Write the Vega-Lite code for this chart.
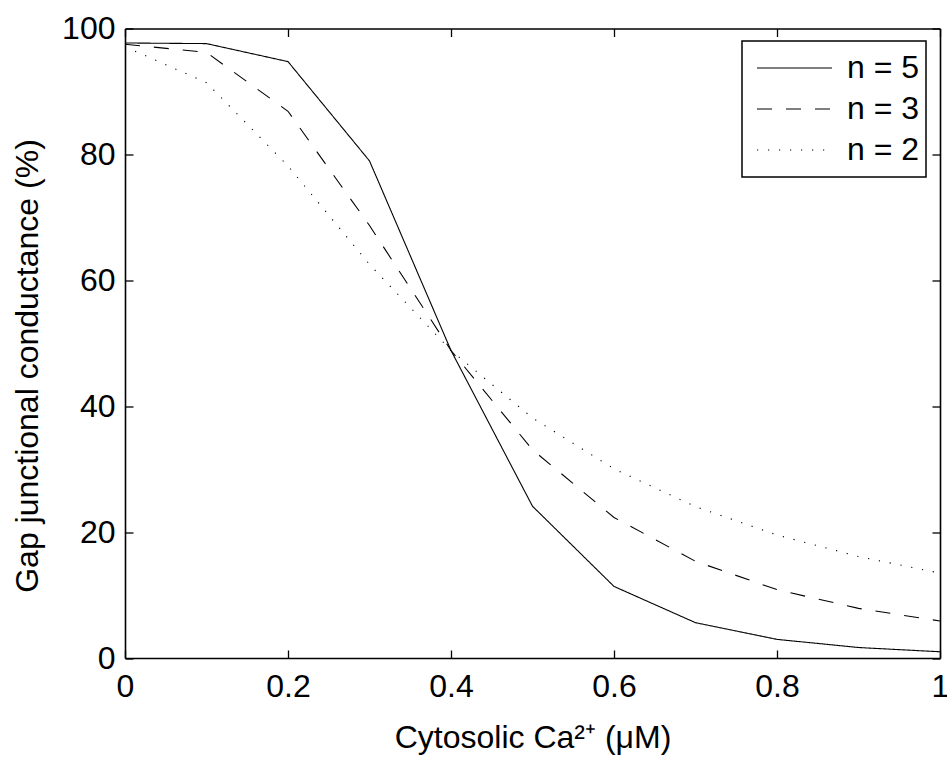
{
  "$schema": "https://vega.github.io/schema/vega-lite/v6.json",
  "width": 815,
  "height": 629.5,
  "autosize": {"type": "none"},
  "padding": {"left": 125, "top": 28.5, "right": 7, "bottom": 104},
  "background": "white",
  "config": {
    "font": "Liberation Sans",
    "view": {"stroke": null},
    "axis": {
      "domainColor": "black", "domainWidth": 1.6,
      "tickColor": "black", "tickWidth": 1.3, "tickSize": -8,
      "labelFont": "Liberation Sans", "labelFontSize": 32, "labelColor": "black",
      "titleFont": "Liberation Sans", "titleFontSize": 32, "titleFontWeight": "normal", "titleColor": "black",
      "grid": false, "labelOverlap": false, "labelFlush": false
    },
    "legend": {"strokeColor": "black", "strokeWidth": 1.5, "fillColor": "white"}
  },
  "data": {
    "values": [
      {"c": 0, "g": 97.7, "s": "n = 5"},
      {"c": 0.1, "g": 97.6, "s": "n = 5"},
      {"c": 0.2, "g": 94.74, "s": "n = 5"},
      {"c": 0.3, "g": 78.97, "s": "n = 5"},
      {"c": 0.4, "g": 48.85, "s": "n = 5"},
      {"c": 0.5, "g": 24.11, "s": "n = 5"},
      {"c": 0.6, "g": 11.37, "s": "n = 5"},
      {"c": 0.7, "g": 5.61, "s": "n = 5"},
      {"c": 0.8, "g": 2.96, "s": "n = 5"},
      {"c": 0.9, "g": 1.665, "s": "n = 5"},
      {"c": 1.0, "g": 0.99, "s": "n = 5"},
      {"c": 0, "g": 97.5, "s": "n = 3"},
      {"c": 0.1, "g": 96.2, "s": "n = 3"},
      {"c": 0.2, "g": 86.85, "s": "n = 3"},
      {"c": 0.3, "g": 68.7, "s": "n = 3"},
      {"c": 0.4, "g": 48.85, "s": "n = 3"},
      {"c": 0.5, "g": 33.08, "s": "n = 3"},
      {"c": 0.6, "g": 22.33, "s": "n = 3"},
      {"c": 0.7, "g": 15.36, "s": "n = 3"},
      {"c": 0.8, "g": 10.86, "s": "n = 3"},
      {"c": 0.9, "g": 7.885, "s": "n = 3"},
      {"c": 1.0, "g": 5.88, "s": "n = 3"},
      {"c": 0, "g": 97.1, "s": "n = 2"},
      {"c": 0.1, "g": 91.4, "s": "n = 2"},
      {"c": 0.2, "g": 78.16, "s": "n = 2"},
      {"c": 0.3, "g": 62.53, "s": "n = 2"},
      {"c": 0.4, "g": 48.85, "s": "n = 2"},
      {"c": 0.5, "g": 38.13, "s": "n = 2"},
      {"c": 0.6, "g": 30.06, "s": "n = 2"},
      {"c": 0.7, "g": 24.05, "s": "n = 2"},
      {"c": 0.8, "g": 19.54, "s": "n = 2"},
      {"c": 0.9, "g": 16.12, "s": "n = 2"},
      {"c": 1.0, "g": 13.48, "s": "n = 2"}
    ]
  },
  "layer": [
    {
      "mark": {"type": "line", "strokeWidth": 1.1, "color": "black", "strokeCap": "butt"},
      "encoding": {
        "x": {
          "field": "c", "type": "quantitative",
          "scale": {"domain": [0, 1], "nice": false},
          "axis": {
            "orient": "bottom", "values": [0, 0.2, 0.4, 0.6, 0.8, 1], "format": "~g",
            "title": "Cytosolic Ca²⁺ (μM)", "titleBaseline": "alphabetic", "titleY": 89,
            "labelPadding": 21
          }
        },
        "y": {
          "field": "g", "type": "quantitative",
          "scale": {"domain": [0, 100], "nice": false},
          "axis": {
            "orient": "left", "values": [0, 20, 40, 60, 80, 100],
            "title": "Gap junctional conductance (%)", "titleBaseline": "alphabetic",
            "titleX": -88, "titleY": 337, "labelPadding": 18
          }
        },
        "strokeDash": {
          "field": "s", "type": "nominal",
          "scale": {"domain": ["n = 5", "n = 3", "n = 2"], "range": [[1, 0], [15, 14], [1.2, 9.8]]},
          "legend": {
            "title": null, "orient": "none", "legendX": 617, "legendY": 12.5,
            "symbolType": "stroke", "symbolSize": 5625, "symbolStrokeWidth": 1.1,
            "symbolStrokeColor": "black", "symbolOffset": 7.5,
            "labelOffset": 14, "labelFontSize": 32, "labelFont": "Liberation Sans", "labelColor": "black",
            "clipHeight": 41, "padding": 6.5, "rowPadding": 0,
            "strokeColor": "black", "fillColor": "white"
          }
        }
      }
    },
    {
      "mark": {"type": "line", "opacity": 0},
      "encoding": {
        "x": {
          "field": "c", "type": "quantitative",
          "scale": {"domain": [0, 1], "nice": false},
          "axis": {"orient": "top", "values": [0, 0.2, 0.4, 0.6, 0.8, 1], "labels": false, "title": null}
        },
        "y": {
          "field": "g", "type": "quantitative",
          "scale": {"domain": [0, 100], "nice": false},
          "axis": {"orient": "right", "values": [0, 20, 40, 60, 80, 100], "labels": false, "title": null}
        },
        "detail": {"field": "s", "type": "nominal"}
      }
    }
  ],
  "resolve": {"axis": {"x": "independent", "y": "independent"}}
}
